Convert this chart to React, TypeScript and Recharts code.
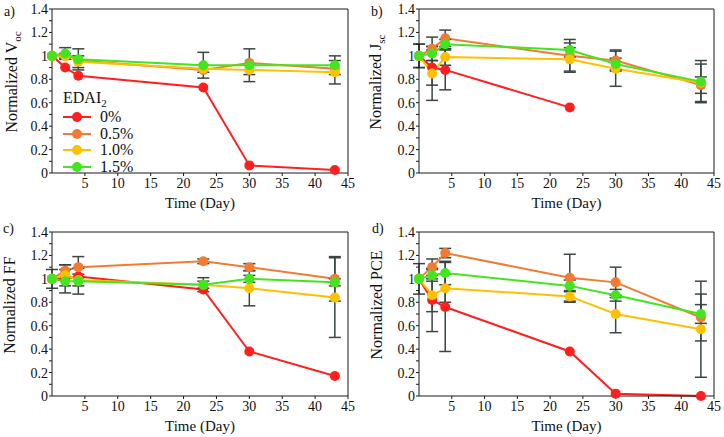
import React from "react";
import {
  LineChart,
  Line,
  XAxis,
  YAxis,
  ErrorBar,
  ReferenceLine,
} from "recharts";

// time points (days) shared by all four panels
const days = [0, 2, 4, 23, 30, 43];

const xTicks = [5, 10, 15, 20, 25, 30, 35, 40, 45];
const yTicks = [0, 0.1, 0.2, 0.3, 0.4, 0.5, 0.6, 0.7, 0.8, 0.9, 1, 1.1, 1.2, 1.3, 1.4];

const legendLabels = ["0%", "0.5%", "1.0%", "1.5%"];
const colors = ["#ff1f1f", "#f27b34", "#ffc000", "#43e51f"];

// a) Voc
const vocRed = [1, 0.9, 0.83, 0.73, 0.065, 0.025];
const vocOrange = [1, 1.0, 0.96, 0.88, 0.94, 0.89];
const vocYellow = [1, 1.0, 0.95, 0.89, 0.88, 0.86];
const vocGreen = [1, 1.02, 0.97, 0.92, 0.92, 0.92];
const vocErrYellow = [0, 0.02, 0.05, 0.03, 0.04, 0.1];
const vocErrGreen = [0, 0.05, 0.09, 0.11, 0.14, 0.08];

// b) Jsc
const jscRed = [1, 0.9, 0.88, 0.56, null, null];
const jscOrange = [1, 1.06, 1.15, 1.0, 0.96, 0.75];
const jscYellow = [1, 0.85, 0.99, 0.97, 0.89, 0.77];
const jscGreen = [1, 1.02, 1.1, 1.05, 0.93, 0.78];
const jscErrRed = [0.1, 0.15, 0.17, 0, 0, 0];
const jscErrOrange = [0, 0.1, 0.07, 0.14, 0.09, 0.07];
const jscErrYellow = [0.1, 0.23, 0.07, 0.1, 0.15, 0.16];
const jscErrGreen = [0, 0.06, 0.04, 0.06, 0.05, 0.18];

// c) FF
const ffRed = [1, 1.0, 1.02, 0.91, 0.38, 0.17];
const ffOrange = [1, 1.07, 1.1, 1.15, 1.1, 1.0];
const ffYellow = [1, 1.03, 0.99, 0.95, 0.92, 0.84];
const ffGreen = [1, 0.98, 0.98, 0.95, 1.0, 0.97];
const ffErrOrange = [0, 0.05, 0.09, 0.02, 0.03, 0.19];
const ffErrYellow = [0, 0.09, 0.05, 0.03, 0.15, 0.34];
const ffErrGreen = [0.08, 0.1, 0.11, 0.06, 0.03, 0.03];

// d) PCE
const pceRed = [1, 0.82, 0.76, 0.38, 0.02, 0.0];
const pceOrange = [1, 1.1, 1.22, 1.01, 0.97, 0.67];
const pceYellow = [1, 0.86, 0.92, 0.85, 0.7, 0.57];
const pceGreen = [1, 1.03, 1.05, 0.94, 0.86, 0.7];
const pceErrRed = [0.13, 0.27, 0.38, 0, 0, 0];
const pceErrOrange = [0, 0.07, 0.04, 0.2, 0.13, 0.2];
const pceErrYellow = [0, 0.14, 0.12, 0.05, 0.16, 0.41];
const pceErrGreen = [0, 0.05, 0.1, 0.05, 0.05, 0.08];

const FONT = "Liberation Serif, Times New Roman, serif";
const AXIS = "#1a1a1a";
const ERR = "#3b4646";

type Series = { values: (number | null)[]; err?: number[] };

type PanelProps = {
  left: number;
  top: number;
  ml: number;
  mr: number;
  letter: string;
  letterX: number;
  letterY: number;
  labelX: number;
  label: string;
  sub?: string;
  series: Series[];
  legend?: boolean;
};

const W = 362;
const H = 218;
const MT = 9;
const MB = 15;
const XH = 30;
const YW = 40;

const tickStyle = { fill: "#111", fontSize: 14, style: { fontFamily: FONT } };

function Panel({ left, top, ml, mr, letter, letterX, letterY, labelX, label, sub, series, legend }: PanelProps) {
  const data = days.map((d, i) => {
    const row: any = { day: d };
    series.forEach((s, k) => {
      row["s" + k] = s.values[i];
      if (s.err) row["e" + k] = s.err[i];
    });
    return row;
  });

  const plotLeft = ml + YW;
  const plotRight = W - mr;
  const plotBottom = H - MB - XH;
  const cy = (MT + plotBottom) / 2 - 9;
  const cx = (plotLeft + plotRight) / 2;

  const texts = () => (
    <g style={{ fontFamily: FONT }} fill="#111">
      <text
        x={labelX}
        y={cy}
        transform={`rotate(-90 ${labelX} ${cy})`}
        textAnchor="middle"
        fontSize={16}
        style={{ fontFamily: FONT }}
      >
        {label}
        {sub && <tspan fontSize={11} dy={4}>{sub}</tspan>}
      </text>
      <text x={cx} y={plotBottom + 35} textAnchor="middle" fontSize={15} style={{ fontFamily: FONT }}>
        Time (Day)
      </text>
    </g>
  );

  return (
    <div style={{ position: "absolute", left, top, width: W, height: H, fontFamily: FONT }}>
      <LineChart
        width={W}
        height={H}
        data={data}
        margin={{ top: MT, right: mr, bottom: MB, left: ml }}
        style={{ fontFamily: FONT }}
      >
        <XAxis
          dataKey="day"
          type="number"
          domain={[0, 45]}
          ticks={xTicks}
          height={XH}
          stroke={AXIS}
          tickSize={3}
          tickMargin={2}
          tick={tickStyle}
        />
        <YAxis
          type="number"
          domain={[0, 1.4]}
          ticks={yTicks}
          width={YW}
          stroke={AXIS}
          tickSize={3}
          tickMargin={1}
          interval={0}
          tick={tickStyle}
          tickFormatter={(v: number) =>
            Math.round(v * 10) % 2 === 0 ? String(+v.toFixed(1)) : ""
          }
          label={{ content: texts }}
        />
        <ReferenceLine y={1.4} stroke={AXIS} />
        <ReferenceLine x={45} stroke={AXIS} />
        {series.map((s, k) => (
          <Line
            key={k}
            dataKey={"s" + k}
            stroke={colors[k]}
            strokeWidth={2}
            dot={{ r: 5, fill: colors[k], stroke: colors[k], strokeWidth: 0 }}
            isAnimationActive={false}
          >
            {s.err && (
              <ErrorBar
                dataKey={"e" + k}
                direction="y"
                width={6}
                stroke={ERR}
                strokeWidth={1.5}
                isAnimationActive={false}
              />
            )}
          </Line>
        ))}
      </LineChart>
      <div style={{ position: "absolute", left: letterX, top: letterY, fontSize: 14, lineHeight: "14px", color: "#111" }}>
        {letter}
      </div>
      {legend && (
        <div style={{ position: "absolute", left: 63, top: 89, fontSize: 16, color: "#111" }}>
          <div style={{ position: "absolute", left: 0, top: 0, whiteSpace: "nowrap", lineHeight: "18px" }}>
            EDAI<sub style={{ fontSize: 11, lineHeight: 0 }}>2</sub>
          </div>
          {legendLabels.map((l, k) => (
            <div
              key={l}
              style={{ position: "absolute", left: 0, top: 20 + k * 16.6, height: 16, display: "flex", alignItems: "center", whiteSpace: "nowrap" }}
            >
              <svg width={28} height={16}>
                <line x1={0} y1={8} x2={28} y2={8} stroke={colors[k]} strokeWidth={2} />
                <circle cx={14} cy={8} r={5} fill={colors[k]} />
              </svg>
              <span style={{ marginLeft: 9, lineHeight: "16px" }}>{l}</span>
            </div>
          ))}
        </div>
      )}
    </div>
  );
}

export default function App() {
  return (
    <div style={{ position: "absolute", left: 0, top: 0, width: 724, height: 437, background: "#fff", fontFamily: FONT }}>
      <Panel
        left={0}
        top={0}
        ml={12}
        mr={14}
        letter="a)"
        letterX={4}
        letterY={5}
        labelX={17}
        label="Normalized V"
        sub="oc"
        legend
        series={[
          { values: vocRed },
          { values: vocOrange },
          { values: vocYellow, err: vocErrYellow },
          { values: vocGreen, err: vocErrGreen },
        ]}
      />
      <Panel
        left={362}
        top={0}
        ml={17}
        mr={10}
        letter="b)"
        letterX={9}
        letterY={5}
        labelX={19}
        label="Normalized J"
        sub="sc"
        series={[
          { values: jscRed, err: jscErrRed },
          { values: jscOrange, err: jscErrOrange },
          { values: jscYellow, err: jscErrYellow },
          { values: jscGreen, err: jscErrGreen },
        ]}
      />
      <Panel
        left={0}
        top={223}
        ml={12}
        mr={14}
        letter="c)"
        letterX={3}
        letterY={-1}
        labelX={15}
        label="Normalized FF"
        series={[
          { values: ffRed },
          { values: ffOrange, err: ffErrOrange },
          { values: ffYellow, err: ffErrYellow },
          { values: ffGreen, err: ffErrGreen },
        ]}
      />
      <Panel
        left={362}
        top={223}
        ml={17}
        mr={10}
        letter="d)"
        letterX={10}
        letterY={-1}
        labelX={20}
        label="Normalized PCE"
        series={[
          { values: pceRed, err: pceErrRed },
          { values: pceOrange, err: pceErrOrange },
          { values: pceYellow, err: pceErrYellow },
          { values: pceGreen, err: pceErrGreen },
        ]}
      />
    </div>
  );
}
